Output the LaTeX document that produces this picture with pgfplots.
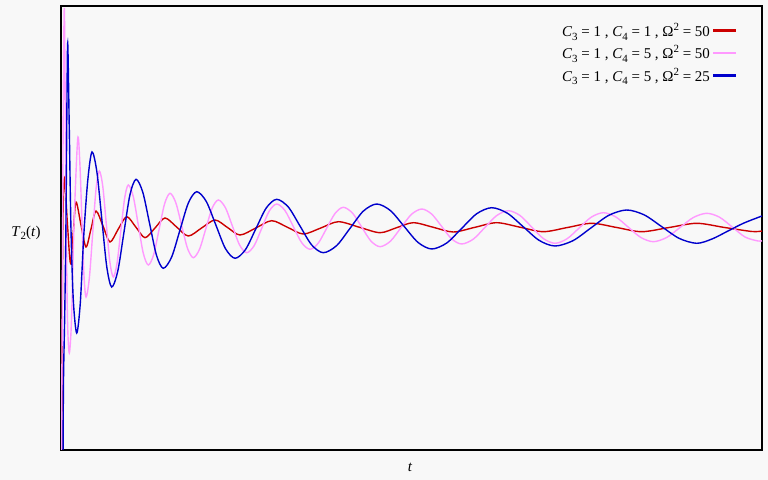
\documentclass[border=0pt]{standalone}
\usepackage{fontspec}
\setmainfont{Liberation Serif}
\usepackage{pgfplots}
\pgfplotsset{compat=1.18}
\definecolor{bgc}{HTML}{F8F8F8}
\definecolor{cred}{HTML}{CC0000}
\definecolor{cpink}{HTML}{FF99FF}
\definecolor{cblue}{HTML}{0000CC}
\newcommand{\sub}[1]{\raisebox{-3.5bp}{\fontsize{11}{11}\selectfont #1}}
\newcommand{\super}[1]{\raisebox{6bp}{\fontsize{11}{11}\selectfont #1}}

% T_2(t) (t from the left edge, T above the centre line)
\pgfplotstableread{
t T
0.6 -230
1.3 -70
2 15
3.5 52
6.5 5
9.5 -33
12.3 -2
15 28
20 5
25 -17
30 1
35 19
42 4
49 -12
57.3 1
65.7 13.3
74.8 3
84 -7.7
94 2
104 12
115.6 3
127.3 -6
140.6 2
154 10
166.5 2.5
179 -5
194.8 2
210.7 9.3
226.5 2.7
242.3 -4
259.8 2
277.3 8.3
298.2 2.8
319 -2.7
335.6 2.3
352.3 7.3
372.3 2.7
392.3 -2
414 2.7
435.7 7.3
459 2.8
482.3 -1.7
506.5 2.5
530.7 6.7
555.7 2.5
580.7 -1.7
608.2 2.5
635.7 6.7
663 2.6
691 -1.5
701 -1
}\redtab

\pgfplotstableread{
t T
0.4 -230
1.3 -70
2.3 130
3.3 222
4.2 130
5.2 10
6.5 -90
8.3 -123
10.5 -90
13 5
16.7 91
18.8 68
20.85 12
22.9 -44
25 -67
28.3 -48.5
31.65 -4
35 40.5
38.3 59
41.8 43.5
45.3 6
48.8 -31.5
52.3 -47
56 -33.5
59.8 -1
63.6 31.5
67.3 45
72.3 33.3
77.3 5
82.3 -23.3
87.3 -35
92.7 -24.5
98.15 0.85
103.6 26.2
109 36.7
114.8 27.3
120.65 4.5
126.5 -18.3
132.3 -27.7
138.55 -19.2
144.8 1.15
151 21.5
157.3 30
164.4 22.3
171.5 3.65
178.6 -15
185.7 -22.7
193.2 -15.6
200.7 1.65
208.2 18.9
215.7 26
224 19.4
232.35 3.35
240.7 -12.7
249 -19.3
257.3 -13.1
265.65 1.7
274 16.5
282.3 22.7
291.5 16.9
300.65 3
309.8 -10.9
319 -16.7
329.4 -11.2
339.85 2.15
350.3 15.5
360.7 21
370.7 15.9
380.7 3.5
390.7 -8.9
400.7 -14
412.35 -9.1
424 2.65
435.65 14.4
447.3 19.3
459 14.5
470.65 3
482.3 -8.5
494 -13.3
506 -8.8
518.15 2
530.2 12.8
542.3 17.3
554.8 13.05
567.3 2.8
579.8 -7.45
592.3 -11.7
605.65 -7.5
619 2.5
632.35 12.5
645.7 16.7
658.5 12.8
671.35 2.85
684.2 -7.1
697 -11
701 -10.8
}\pinktab

\pgfplotstableread{
t T
2 -230
2.5 -150
3.8 -80
5 10
5.8 110
6.7 187
8.3 100
10 0
12.3 -70
15.7 -103
19.3 -73
22.8 -5
26.8 50
31 78
35.9 58
40.85 10.5
45.8 -37
50.7 -57
56.8 -41
62.85 -3
68.9 35
75 50.7
81.8 37.7
88.65 6.2
95.5 -25.3
102.3 -38.3
110.65 -27
119 0
127.35 27
135.7 38.3
145.3 28.5
154.85 5
164.4 -18.5
174 -28.3
184.4 -19.7
194.85 1.2
205.3 22.1
215.7 30.7
227.35 22.9
239 4
250.65 -14.9
262.3 -22.7
275.65 -15.6
289 1.65
302.35 18.9
315.7 26
329.45 19.4
343.2 3.5
357 -12.4
370.7 -19
385.7 -13
400.7 1.65
415.7 16.25
430.7 22.3
446.5 16.7
462.35 3.15
478.2 -10.4
494 -16
511.9 -10.7
529.85 2
547.8 14.7
565.7 20
583.2 15.1
600.7 3.35
618.2 -8.4
635.7 -13.3
651 -9
667 -1
683 7
701 14
}\bluetab

\begin{document}
\begin{tikzpicture}
\fill[bgc] (0,0) rectangle (768bp,480bp);
\useasboundingbox (0,0) rectangle (768bp,480bp);
\begin{axis}[
  at={(61bp,30bp)}, anchor=south west,
  scale only axis, width=701bp, height=444bp,
  xmin=0, xmax=701, ymin=-220, ymax=224,
  xtick=\empty, ytick=\empty,
  axis line style={line width=1.3bp, black},
  label style={font=\fontsize{15}{18}\selectfont},
  xlabel={\textit{t}},
  xlabel style={at={(axis description cs:0.498,-0.038)}, anchor=center},
  ylabel={\textit{T}\sub{2}(\textit{t})},
  ylabel style={at={(axis description cs:-0.05,0.489)}, rotate=-90, anchor=center},
  legend style={draw=none, fill=none, at={(axis description cs:0.965,0.966)},
    anchor=north east, font=\fontsize{15}{18}\selectfont, row sep=3.7bp, inner sep=0pt},
  legend cell align=right,
  legend plot pos=right,
  legend image code/.code={\draw[#1, line width=2.4bp] (0bp,0bp) -- (23bp,0bp);},
]
\addplot[cred, line width=1.4bp, smooth, mark=none] table[x=t, y=T] {\redtab};
\addlegendentry{\textit{C}\sub{3} = 1 , \textit{C}\sub{4} = 1 , Ω\super{2} = 50}
\addplot[cpink, line width=1.4bp, smooth, mark=none] table[x=t, y=T] {\pinktab};
\addlegendentry{\textit{C}\sub{3} = 1 , \textit{C}\sub{4} = 5 , Ω\super{2} = 50}
\addplot[cblue, line width=1.4bp, smooth, mark=none] table[x=t, y=T] {\bluetab};
\addlegendentry{\textit{C}\sub{3} = 1 , \textit{C}\sub{4} = 5 , Ω\super{2} = 25}
\end{axis}
\end{tikzpicture}
\end{document}
